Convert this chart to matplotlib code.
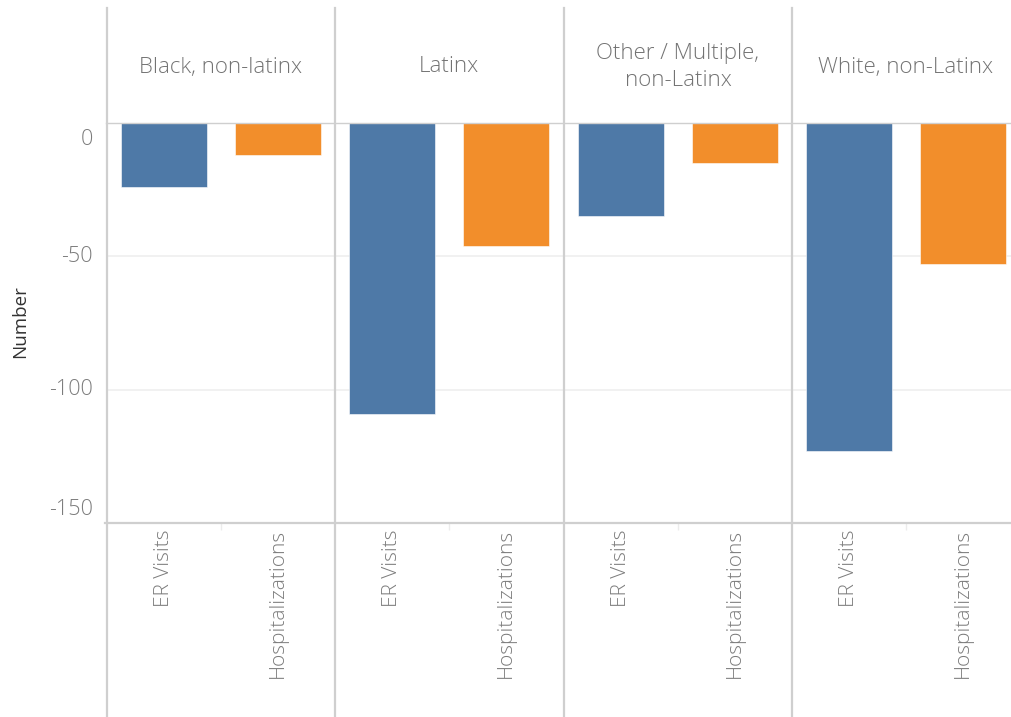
import matplotlib
matplotlib.use("Agg")
import matplotlib.pyplot as plt
from matplotlib.lines import Line2D
from matplotlib.transforms import blended_transform_factory, ScaledTranslation

categories = ["Black, non-latinx", "Latinx", "Other / Multiple,\nnon-Latinx", "White, non-Latinx"]
measures = ["ER Visits", "Hospitalizations"]
er_visits = [-24, -109, -35, -123]
hospitalizations = [-12, -46, -15, -53]
y_ticks = [0, -50, -100, -150]
y_tick_labels = ["0", "-50", "-100", "-150"]
colors = ["#4e79a7", "#f28e2b"]

plt.rcParams['font.family'] = ['Open Sans', 'DejaVu Sans']

W, H = 1012, 717
fig = plt.figure(figsize=(W / 100, H / 100), dpi=100)

def fx(px):
    return px / W

def fy(py):
    return 1 - py / H

pane_left = [107, 335, 564, 792]
pane_w = 228
top, bottom = 123, 523
line_col = "#cfcfcf"
text_col = "#7c7c7c"

for i, cat in enumerate(categories):
    ax = fig.add_axes([fx(pane_left[i]), fy(bottom), pane_w / W, (bottom - top) / H])
    vals = [er_visits[i], hospitalizations[i]]
    for j in range(2):
        ax.bar(j, vals[j], width=0.755, color=colors[j], edgecolor="white",
               linewidth=0.4, zorder=3)
    ax.set_xlim(-0.5, 1.5)
    ax.set_ylim(-150, 0)
    for g in [-50, -100]:
        ax.axhline(g, color="#efefef", lw=1.2, zorder=1)
    for s in ax.spines.values():
        s.set_visible(False)
    ax.set_xticks([0, 1])
    ax.set_xticklabels(measures, rotation=90, va="top", ha="center",
                       fontsize=15, color=text_col, fontweight="light")
    ax.tick_params(axis="x", length=0, pad=4.5)
    ax.set_xticks([0.5], minor=True)
    ax.tick_params(axis="x", which="minor", length=5, width=1, color="#ececec",
                   direction="out")
    ax.set_yticks([])
    if i == 0:
        tr = blended_transform_factory(ax.transAxes, ax.transData)
        vas = ["top", "center", "center", "bottom"]
        offs = [-6, 0, 0, 3]
        for v, lab, va, off in zip(y_ticks, y_tick_labels, vas, offs):
            t = tr + ScaledTranslation(-14 / 100, off / 100, fig.dpi_scale_trans)
            ax.text(0, v, lab, transform=t, ha="right", va=va,
                    fontsize=15.5, color=text_col, fontweight="light")
    ax.patch.set_alpha(0)
    # header text
    fig.text(fx(pane_left[i] + pane_w / 2), fy(67), cat, ha="center", va="center",
             fontsize=16, color="#737373", linespacing=1.35, fontweight="light")

# separators
for x in pane_left:
    fig.add_artist(Line2D([fx(x), fx(x)], [fy(8), fy(717)], color=line_col, lw=1.6))
fig.add_artist(Line2D([fx(106), fx(1012)], [fy(123), fy(123)], color=line_col, lw=1.0))
fig.add_artist(Line2D([fx(105), fx(1012)], [fy(523), fy(523)], color=line_col, lw=1.6))

fig.text(fx(20), fy(322), "Number", rotation=90, ha="center", va="center",
         fontsize=13.5, color="#333333")

fig.savefig("out.png", dpi=100)
